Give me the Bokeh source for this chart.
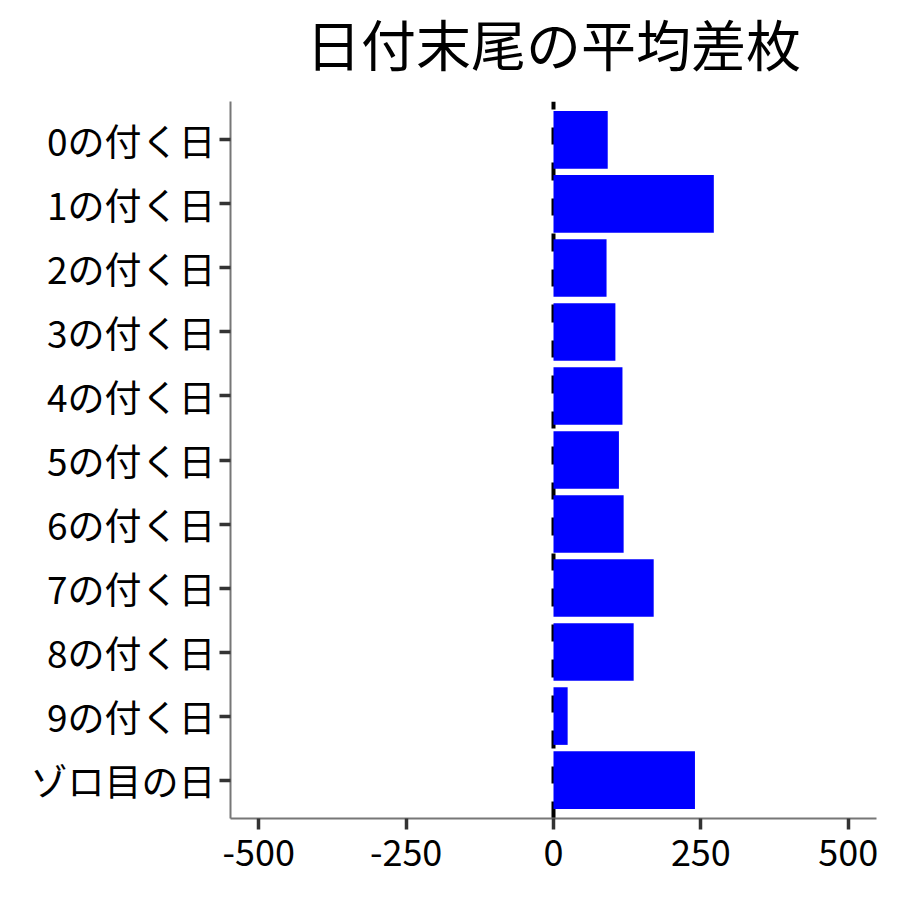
from bokeh.plotting import figure
from bokeh.layouts import column
from bokeh.models import FactorRange, Range1d, FixedTicker, Span
from bokeh.core.properties import value
from bokeh.embed import file_html
from bokeh.resources import INLINE

categories = ["0の付く日", "1の付く日", "2の付く日", "3の付く日", "4の付く日",
              "5の付く日", "6の付く日", "7の付く日", "8の付く日", "9の付く日", "ゾロ目の日"]
values = [92, 272, 90, 105, 117, 111, 119, 170, 136, 24, 240]
x_ticks = [-500, -250, 0, 250, 500]
x_tick_labels = ["-500", "-250", "0", "250", "500"]
title_text = "日付末尾の平均差枚"

FONT = "Noto Sans CJK JP"
PAD = 0.1
W = 892
LEFT, RIGHT = 230, 16
TITLE_H = 101
MAIN_H = 799
BOTTOM = 82

X_RANGE = (-548, 548)

# ---- title strip (a separate figure so the text can sit above the frame) ----
t = figure(width=W, height=TITLE_H, x_range=Range1d(*X_RANGE),
           y_range=Range1d(0, TITLE_H),
           output_backend="svg", toolbar_location=None,
           x_axis_location=None, y_axis_location=None,
           min_border_left=LEFT, min_border_right=RIGHT,
           min_border_top=0, min_border_bottom=0)
t.grid.visible = False
t.outline_line_color = None
t.background_fill_color = "white"
t.border_fill_color = "white"
t.text(x=[0], y=[60], text=[title_text], text_font=value(FONT),
       text_font_size="55px", text_color="black",
       text_align="center", text_baseline="alphabetic")

# ---- main chart ----
p = figure(
    width=W, height=MAIN_H,
    y_range=FactorRange(factors=categories[::-1], range_padding=PAD,
                        range_padding_units="absolute"),
    x_range=Range1d(*X_RANGE),
    output_backend="svg", toolbar_location=None,
    min_border_left=LEFT, min_border_right=RIGHT,
    min_border_top=0, min_border_bottom=BOTTOM,
)

zero_line = Span(location=0, dimension="height", line_color="black",
                 line_width=4, line_dash="18 18 17 18", line_dash_offset=10,
                 level="underlay")
p.add_layout(zero_line)

p.hbar(y=categories, left=0, right=values, height=0.9,
       fill_color="#0000FF", line_color=None)

p.grid.visible = False
p.outline_line_color = None
p.background_fill_color = "white"
p.border_fill_color = "white"

p.xaxis.ticker = FixedTicker(ticks=x_ticks)
p.xaxis.major_label_overrides = {t_: s for t_, s in zip(x_ticks, x_tick_labels)}
for ax in (p.xaxis[0], p.yaxis[0]):
    ax.axis_line_color = "#777777"
    ax.axis_line_width = 2
    ax.major_tick_line_color = "#333333"
    ax.major_tick_line_width = 3.5
    ax.major_tick_out = 11
    ax.major_tick_in = 0
    ax.minor_tick_line_color = None
    ax.major_label_text_font = FONT
    ax.major_label_text_color = "black"
p.xaxis.major_label_text_font_size = "36px"
p.xaxis.major_label_standoff = 10
p.yaxis.major_label_text_font_size = "37px"
p.yaxis.major_label_standoff = 4

layout = column(t, p, spacing=0)

out = file_html(layout, INLINE)
open("out.html", "w").write(out)
